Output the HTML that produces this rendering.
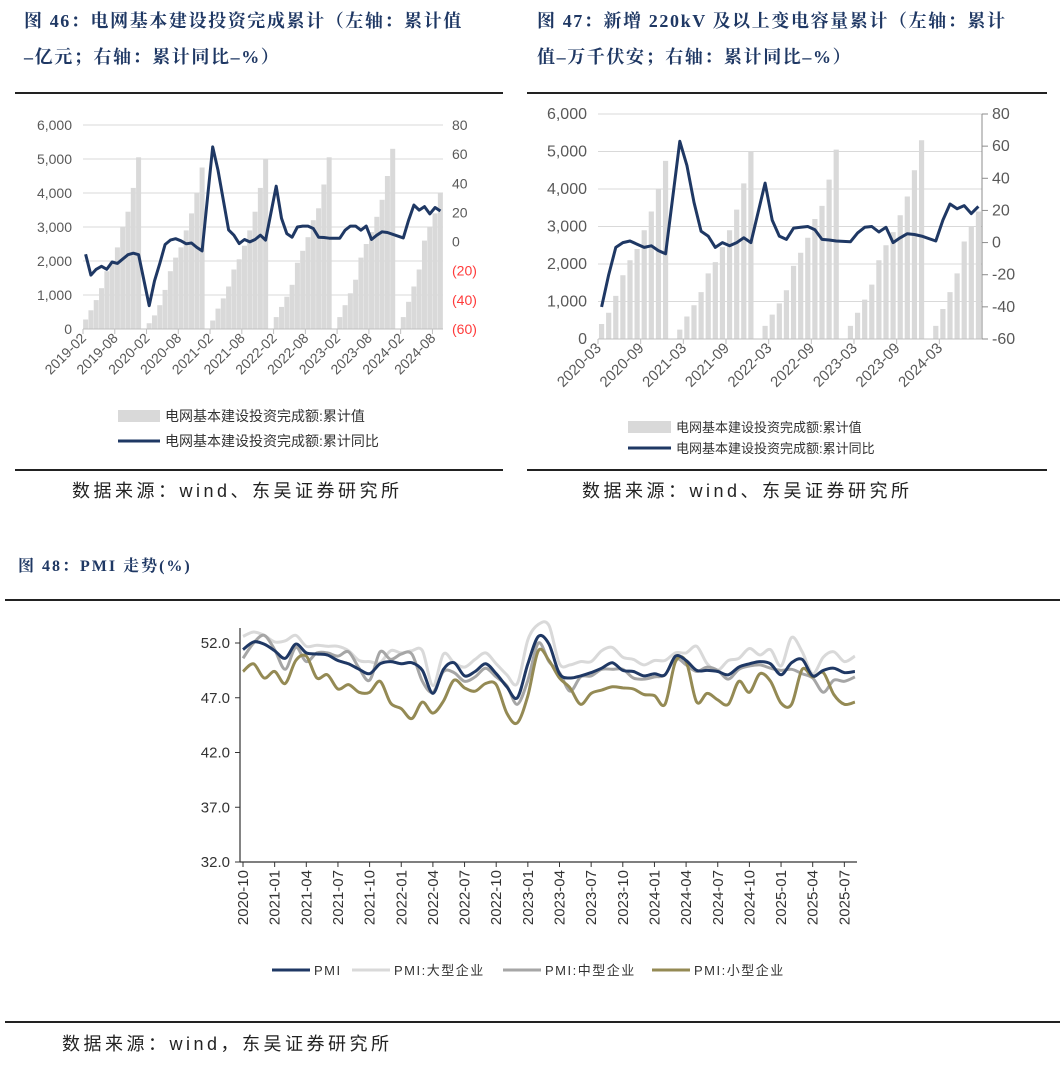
<!DOCTYPE html>
<html><head><meta charset="utf-8">
<style>
html,body{margin:0;padding:0;background:#fff;}
svg{display:block;}
.ttl{font-family:"Liberation Serif","Noto Serif CJK SC",serif;font-weight:bold;fill:#1f3864;}
.src{font-family:"Liberation Sans","Noto Sans CJK SC",sans-serif;fill:#222;}
.ax{font-family:"Liberation Sans","Noto Sans CJK SC",sans-serif;fill:#595959;}
</style></head>
<body>
<svg id="root" width="1062" height="1065" viewBox="0 0 1062 1065" xmlns="http://www.w3.org/2000/svg">
<text class="ttl" x="24" y="27" font-size="18" letter-spacing="1.6">图 46：电网基本建设投资完成累计（左轴：累计值</text>
<text class="ttl" x="24" y="63" font-size="18" letter-spacing="1.6">–亿元；右轴：累计同比–%）</text>
<text class="ttl" x="537" y="27" font-size="18" letter-spacing="1.6">图 47：新增 220kV 及以上变电容量累计（左轴：累计</text>
<text class="ttl" x="537" y="63" font-size="18" letter-spacing="1.6">值–万千伏安；右轴：累计同比–%）</text>
<rect x="15" y="92" width="488" height="2" fill="#222"/>
<rect x="527" y="92" width="520" height="2" fill="#222"/>
<rect x="15" y="469" width="488" height="2" fill="#222"/>
<rect x="527" y="469" width="520" height="2" fill="#222"/>
<text class="src" x="72" y="497" font-size="18" letter-spacing="3.5">数据来源：wind、东吴证券研究所</text>
<text class="src" x="582" y="497" font-size="18" letter-spacing="3.5">数据来源：wind、东吴证券研究所</text>
<text class="ttl" x="18" y="571" font-size="16" letter-spacing="2">图 48：PMI 走势(%)</text>
<rect x="5" y="599" width="1055" height="2" fill="#222"/>
<rect x="5" y="1021" width="1055" height="2" fill="#222"/>
<text class="src" x="62" y="1050" font-size="18" letter-spacing="3.5">数据来源：wind，东吴证券研究所</text>
<g id="c1"></g>
<g id="c2"></g>
<g id="c3"></g>
</svg>
<script>
// ---- Chart 1/2 data (2019-02 .. 2024-09, Jan = null) ----
const c1Bars = [280,550,850,1200,1700,2000,2400,3000,3450,4150,5050,
 null,170,400,700,1150,1700,2100,2400,2900,3400,4000,4750,
 null,250,600,900,1250,1750,2050,2450,2900,3450,4150,5000,
 null,350,650,950,1300,1950,2300,2700,3200,3550,4250,5050,
 null,350,700,1050,1450,2100,2500,2850,3300,3800,4500,5300,
 null,350,800,1250,1750,2600,3000,3400,4000];
const c1Yoy = [-8.7,-23,-19,-17,-19,-14,-15,-12,-9,-8,-9,
 null,-44,-27,-15,-2,1,2,0.5,-1.5,-1,-4,-6.4,
 null,65,49,28.5,8,4.4,-1.4,1.4,-0.2,1.4,4.4,1,
 null,38,16,5.5,3,10,10.6,10.6,9,3,2.8,2.3,
 null,2.3,7.8,10.6,10.6,7.8,10.6,1.4,4.4,6.7,6.2,5,
 null,2.5,14.7,25,21.6,24,19,23.4,21];
const c1Ticks = ["2019-02","2019-08","2020-02","2020-08","2021-02","2021-08","2022-02","2022-08","2023-02","2023-08","2024-02","2024-08"];
const c1LeftTicks = [0,1000,2000,3000,4000,5000,6000];
const c1RightTicks = [-60,-40,-20,0,20,40,60,80];
// chart 2: 2020-03 .. 2024-08
const c2Bars = c1Bars.slice(13,67);
const c2Yoy = [-40,-20,-3,0,1,-1,-3,-2,-5,-7,
 null,63,48,25,7,4,-3,0,-2,0,3,0,
 null,37,14,4,2,9,9.5,10,8,2,1.6,1,
 null,0.5,6,9.5,10,6.6,9.5,0,3,5.5,5,4,
 null,1,14,24,21,23,18,22.5];
const c2Ticks = ["2020-03","2020-09","2021-03","2021-09","2022-03","2022-09","2023-03","2023-09","2024-03"];
// ---- Chart 3 data (2020-10 .. 2025-08) ----
const pmiTicks = ["2020-10","2021-01","2021-04","2021-07","2021-10","2022-01","2022-04","2022-07","2022-10","2023-01","2023-04","2023-07","2023-10","2024-01","2024-04","2024-07","2024-10","2025-01","2025-04","2025-07"];
const pmiYTicks = [32,37,42,47,52];
const pmi = [51.4,52.1,51.9,51.3,50.6,51.9,51.1,51.0,50.9,50.4,50.1,49.6,49.2,50.1,50.3,50.1,50.2,49.5,47.4,49.6,50.2,49.0,49.4,50.1,49.2,48.0,47.0,50.1,52.6,51.9,49.2,48.8,49.0,49.3,49.7,50.2,49.5,49.4,49.0,49.2,49.1,50.8,50.4,49.5,49.5,49.4,49.1,49.8,50.1,50.3,50.1,49.1,50.2,50.5,49.0,49.5,49.7,49.3,49.4];
const pmiLarge = [52.6,53.0,52.7,52.1,52.2,52.7,51.7,51.8,51.7,51.7,51.3,50.4,50.3,50.2,51.3,51.1,51.3,51.3,48.1,51.0,50.2,49.8,50.5,51.1,50.1,49.1,48.3,52.3,53.7,53.6,50.1,50.0,50.3,50.3,51.3,51.6,50.7,50.5,50.0,50.4,50.4,51.1,51.1,51.7,50.1,49.5,50.4,50.6,51.5,50.9,51.4,49.9,52.5,51.2,49.2,50.7,51.2,50.3,50.8];
const pmiMedium = [50.6,52.0,52.7,51.4,49.6,51.6,50.3,51.1,51.1,50.8,51.2,49.7,48.6,51.2,50.5,51.0,51.0,48.5,47.5,49.4,49.3,48.5,48.9,49.7,48.9,48.1,46.4,48.6,52.0,50.3,49.3,47.6,48.9,49.0,49.6,49.6,49.6,48.8,48.7,48.9,49.1,50.6,50.0,49.4,49.8,49.5,48.7,49.6,49.9,50.0,49.7,49.5,49.6,49.2,48.8,47.5,48.6,48.5,48.9];
const pmiSmall = [49.4,50.1,48.8,49.4,48.3,50.4,50.8,48.8,49.1,47.8,48.2,47.5,47.5,48.5,46.5,46.0,45.1,46.6,45.6,46.7,48.6,47.9,47.6,48.3,48.2,45.6,44.7,47.2,51.3,50.4,48.8,47.9,46.4,47.4,47.7,48.0,47.9,47.8,47.3,47.2,46.4,50.3,50.3,46.6,47.4,46.8,46.4,48.5,47.5,49.2,48.5,46.5,46.4,49.6,48.9,49.3,47.3,46.4,46.6];

const NS = "http://www.w3.org/2000/svg";
function mk(parent, tag, attrs, txt){
  const e = document.createElementNS(NS, tag);
  for (const k in attrs) e.setAttribute(k, attrs[k]);
  if (txt !== undefined) e.textContent = txt;
  parent.appendChild(e);
  return e;
}
function linePath(pts){ return pts.map((p,i)=>(i?"L":"M")+p[0].toFixed(1)+" "+p[1].toFixed(1)).join(" "); }
function smoothPath(pts){
  let d = "M"+pts[0][0].toFixed(1)+" "+pts[0][1].toFixed(1);
  for (let i=0;i<pts.length-1;i++){
    const p0=pts[Math.max(0,i-1)],p1=pts[i],p2=pts[i+1],p3=pts[Math.min(pts.length-1,i+2)];
    const t=0.16;
    d+=" C"+(p1[0]+(p2[0]-p0[0])*t).toFixed(1)+" "+(p1[1]+(p2[1]-p0[1])*t).toFixed(1)+" "+(p2[0]-(p3[0]-p1[0])*t).toFixed(1)+" "+(p2[1]-(p3[1]-p1[1])*t).toFixed(1)+" "+p2[0].toFixed(1)+" "+p2[1].toFixed(1);
  }
  return d;
}

function barLineChart(g, o){
  const n = o.bars.length, w = (o.x1-o.x0)/n;
  const yL = v => o.y0 - v/6000*(o.y0-o.y1);
  const yR = v => o.y0 - (v+60)/140*(o.y0-o.y1);
  const xc = i => o.x0 + (i+0.5)*w;
  for (const t of o.leftTicks){
    const gl = mk(g,"line",{x1:o.x0,x2:o.x1,y1:yL(t),y2:yL(t),stroke:"#d9d9d9","stroke-width":1});
    
    
    const tl = mk(g,"text",{x:o.lx,y:yL(t)+5,"text-anchor":"end","font-size":o.fs,class:"ax"},t.toLocaleString("en-US"));
    
    
  }
  for (const t of o.rightTicks){
    const neg = t<0 && o.paren;
    const s = o.paren ? (t<0?"("+(-t)+")":String(t)) : (t<0?"-"+(-t):String(t));
    const tr = mk(g,"text",{x:o.rx,y:yR(t)+5,"font-size":o.fs,class:"ax",style:neg?"fill:#ff3b3b":""},s);
    
    
    if (o.rightAxis){
      const tk = mk(g,"line",{x1:o.x1,x2:o.x1+6,y1:yR(t),y2:yR(t),stroke:"#8c8c8c"});
      
      
    }
  }
  if (o.rightAxis){
    const ra = mk(g,"line",{x1:o.x1,x2:o.x1,y1:o.y1,y2:o.y0,stroke:"#8c8c8c"});
    
    
  }
  o.bars.forEach((v,i)=>{
    if (v==null) return;
    const b = mk(g,"rect",{x:xc(i)-o.bw/2,y:yL(v),width:o.bw,height:o.y0-yL(v),fill:"#d9d9d9"});
    
    
  });
  const ax = mk(g,"line",{x1:o.x0,x2:o.x1,y1:o.y0,y2:o.y0,stroke:"#bfbfbf"});
  
  
  o.ticks.forEach((lab,k)=>{
    const tx = o.x0 + k*6*w;
    const tk = mk(g,"line",{x1:tx,x2:tx,y1:o.y0,y2:o.y0+5,stroke:"#bfbfbf"});
    
    
    const tl = mk(g,"text",{x:tx+4,y:o.y0+10,"text-anchor":"end","font-size":o.xfs,class:"ax",transform:"rotate(-45 "+(tx+4)+" "+(o.y0+10)+")"},lab);
    
    
  });
  const pts = [];
  o.yoy.forEach((v,i)=>{ if (v!=null) pts.push([xc(i),yR(v)]); });
  const ln = mk(g,"path",{d:linePath(pts),fill:"none",stroke:"#1f3864","stroke-width":3,"stroke-linejoin":"round"});
  
  
  const lg = o.legend;
  const r = mk(g,"rect",{x:lg.x,y:lg.y-6,width:lg.w,height:12,fill:"#d9d9d9"});
  
  
  const t1 = mk(g,"text",{x:lg.x+lg.w+5,y:lg.y+5,"font-size":lg.fs,class:"ax",style:"fill:#333"},"电网基本建设投资完成额:累计值");
  
  
  const l2 = mk(g,"line",{x1:lg.x,x2:lg.x+lg.w,y1:lg.y+lg.gap,y2:lg.y+lg.gap,stroke:"#1f3864","stroke-width":3});
  
  
  const t2 = mk(g,"text",{x:lg.x+lg.w+5,y:lg.y+lg.gap+5,"font-size":lg.fs,class:"ax",style:"fill:#333"},"电网基本建设投资完成额:累计同比");
  
  
}

barLineChart(document.getElementById("c1"),{bars:c1Bars,yoy:c1Yoy,ticks:c1Ticks,leftTicks:c1LeftTicks,rightTicks:c1RightTicks,
  x0:83,x1:443,y0:329,y1:125,bw:5,lx:72,rx:452,fs:14,xfs:14,paren:true,rightAxis:false,
  legend:{x:118,y:416,w:42,gap:25,fs:14}});
barLineChart(document.getElementById("c2"),{bars:c2Bars,yoy:c2Yoy,ticks:c2Ticks,leftTicks:c1LeftTicks,rightTicks:c1RightTicks,
  x0:598,x1:982,y0:339,y1:114,bw:5.2,lx:587,rx:992,fs:16,xfs:15,paren:false,rightAxis:true,
  legend:{x:628,y:427,w:43,gap:21,fs:13}});

// ---- Chart 3 ----
(function(){
  const g = document.getElementById("c3");
  const X0=243, dx=10.55, AX=240, XR=857, Y0=862;
  const y = v => Y0 - (v-32)/20*(Y0-643);
  const x = i => X0 + i*dx;
  for (const t of pmiYTicks){
    const tl = mk(g,"text",{x:230,y:y(t)+5,"text-anchor":"end","font-size":15,class:"ax",style:"fill:#333"},t.toFixed(1));
    
    
    const tk = mk(g,"line",{x1:AX-5,x2:AX,y1:y(t),y2:y(t),stroke:"#333"});
    
    
  }
  const ya = mk(g,"line",{x1:AX,x2:AX,y1:628,y2:Y0,stroke:"#333","stroke-width":1.2});
  
  
  const xa = mk(g,"line",{x1:AX,x2:XR,y1:Y0,y2:Y0,stroke:"#333","stroke-width":1.2});
  
  
  pmiTicks.forEach((lab,k)=>{
    const tx = x(k*3);
    if (tx>XR) return;
    const tk = mk(g,"line",{x1:tx,x2:tx,y1:Y0,y2:Y0+5,stroke:"#333"});
    
    
    const tl = mk(g,"text",{x:tx+5,y:Y0+8,"text-anchor":"end","font-size":15,class:"ax",style:"fill:#333",transform:"rotate(-90 "+(tx+5)+" "+(Y0+8)+")"},lab);
    
    
  });
  const series = [[pmiLarge,"#d9d9d9","pmi-large-line"],[pmiMedium,"#a6a6a6","pmi-medium-line"],[pmiSmall,"#948a54","pmi-small-line"],[pmi,"#1f3864","pmi-line"]];
  for (const s of series){
    const p = mk(g,"path",{d:smoothPath(s[0].map((v,i)=>[x(i),y(v)])),fill:"none",stroke:s[1],"stroke-width":3,"stroke-linejoin":"round"});
    
    
  }
  const leg = [["PMI","#1f3864",272],["PMI:大型企业","#d9d9d9",352],["PMI:中型企业","#a6a6a6",503],["PMI:小型企业","#948a54",652]];
  for (const l of leg){
    const sw = mk(g,"line",{x1:l[2],x2:l[2]+38,y1:970,y2:970,stroke:l[1],"stroke-width":3});
    
    
    const t = mk(g,"text",{x:l[2]+42,y:975,"font-size":13,"letter-spacing":1.5,class:"ax",style:"fill:#333"},l[0]);
    
    
  }
})();
</script>
</body></html>
